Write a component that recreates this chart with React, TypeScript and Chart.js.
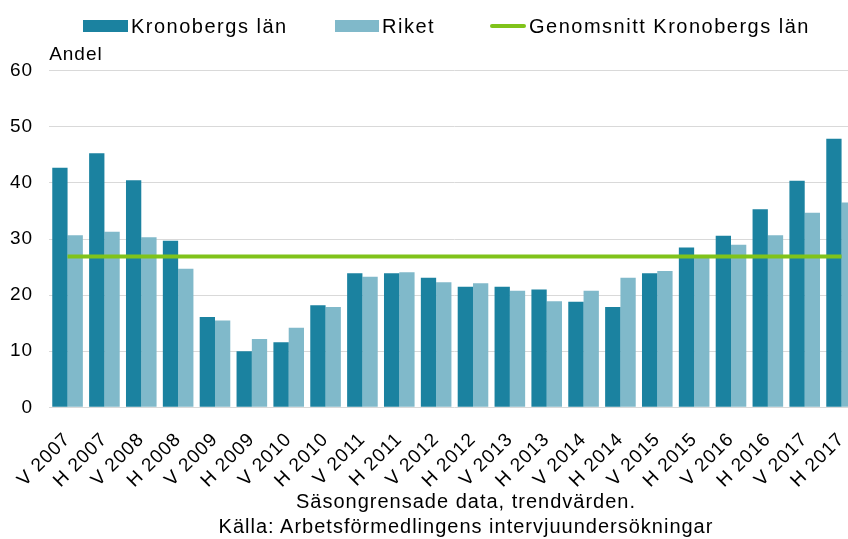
import React, { useEffect, useRef } from "react";
import { Chart, registerables } from "chart.js";

Chart.register(...registerables);

// ---- Data ----
const categories = [
  "V 2007", "H 2007", "V 2008", "H 2008", "V 2009", "H 2009", "V 2010", "H 2010",
  "V 2011", "H 2011", "V 2012", "H 2012", "V 2013", "H 2013", "V 2014", "H 2014",
  "V 2015", "H 2015", "V 2016", "H 2016", "V 2017", "H 2017",
];
const kronobergsLan = [
  42.7, 45.3, 40.5, 29.7, 16.1, 10.0, 11.6, 18.2, 23.9, 23.9, 23.1,
  21.5, 21.5, 21.0, 18.8, 17.9, 23.9, 28.5, 30.6, 35.3, 40.4, 47.9,
];
const riket = [
  30.7, 31.3, 30.3, 24.7, 15.5, 12.2, 14.2, 17.9, 23.3, 24.1, 22.3,
  22.1, 20.8, 18.9, 20.8, 23.1, 24.3, 27.0, 29.0, 30.7, 34.7, 36.5,
];
const genomsnittKronobergsLan = [
  26.9, 26.9, 26.9, 26.9, 26.9, 26.9, 26.9, 26.9, 26.9, 26.9, 26.9,
  26.9, 26.9, 26.9, 26.9, 26.9, 26.9, 26.9, 26.9, 26.9, 26.9, 26.9,
];
const seriesNames = ["Kronobergs län", "Riket", "Genomsnitt Kronobergs län"];
const yAxisLabel = "Andel";
const yMin = 0;
const yMax = 60;
const yStep = 10;
const captionLines = [
  "Säsongrensade data, trendvärden.",
  "Källa: Arbetsförmedlingens intervjuundersökningar",
];

// ---- Styles ----
const FONT = '"Liberation Sans", Arial, Helvetica, sans-serif';
const DARK = "#1b82a0";
const LIGHT = "#80b9ca";
const GREEN = "#80c31a";
const GRID = "#d9d9d9";
const TEXT = "#000000";
const Y_TICK_PADDING = 16;

const letterSpacingPlugin = {
  id: "letterSpacing",
  beforeLayout(chart: any) {
    chart.ctx.letterSpacing = "1px";
  },
  beforeDraw(chart: any) {
    chart.ctx.letterSpacing = "1px";
  },
};

export default function App() {
  const canvasRef = useRef<HTMLCanvasElement>(null);

  useEffect(() => {
    const chart = new Chart(canvasRef.current as HTMLCanvasElement, {
      type: "bar",
      data: {
        labels: categories,
        datasets: [
          {
            label: seriesNames[0],
            data: kronobergsLan,
            backgroundColor: DARK,
            order: 1,
          },
          {
            label: seriesNames[1],
            data: riket,
            backgroundColor: LIGHT,
            order: 1,
          },
          {
            type: "line",
            label: seriesNames[2],
            data: genomsnittKronobergsLan,
            borderColor: GREEN,
            backgroundColor: GREEN,
            borderWidth: 4,
            pointRadius: 0,
            fill: false,
            order: 0,
          } as any,
        ],
      },
      options: {
        animation: false,
        responsive: false,
        maintainAspectRatio: false,
        layout: { padding: { left: 10, top: 43, right: 0, bottom: 47 } },
        datasets: {
          bar: { categoryPercentage: 0.83, barPercentage: 1 },
        },
        plugins: {
          legend: { display: false },
          tooltip: { enabled: false },
          title: {
            display: true,
            text: yAxisLabel,
            align: "start",
            position: "top",
            fullSize: false,
            color: TEXT,
            font: { family: FONT, size: 19, weight: "normal", lineHeight: 1.2 },
            padding: { top: 0, bottom: 5 },
          },
        },
        scales: {
          x: {
            grid: { display: false, drawTicks: true, tickLength: 21 },
            border: { display: false },
            ticks: {
              autoSkip: false,
              minRotation: 45,
              maxRotation: 45,
              padding: 0,
              color: TEXT,
              font: { family: FONT, size: 19 },
            },
            afterFit(scale: any) {
              scale.paddingLeft = 0;
              scale.paddingRight = 0;
            },
          },
          y: {
            min: yMin,
            max: yMax,
            ticks: {
              stepSize: yStep,
              padding: Y_TICK_PADDING,
              color: TEXT,
              font: { family: FONT, size: 19 },
            },
            grid: { color: GRID, lineWidth: 1, drawTicks: false },
            border: { display: false },
            afterFit(scale: any) {
              // Chart.js reserves the tick padding twice; keep it once.
              scale.width = scale.width - Y_TICK_PADDING;
            },
          },
        },
      },
      plugins: [letterSpacingPlugin],
    });
    return () => chart.destroy();
  }, []);

  const legendItems = [
    { name: seriesNames[0], color: DARK, kind: "box", left: 83, swatchW: 45 },
    { name: seriesNames[1], color: LIGHT, kind: "box", left: 335, swatchW: 44 },
    { name: seriesNames[2], color: GREEN, kind: "line", left: 490, swatchW: 36 },
  ];

  return (
    <div
      style={{
        position: "fixed",
        left: 0,
        top: 0,
        width: 860,
        height: 539,
        background: "#fff",
        overflow: "hidden",
      }}
    >
      <canvas
        ref={canvasRef}
        width={860}
        height={539}
        style={{ display: "block", width: 860, height: 539 }}
      />
      {legendItems.map((it) => (
        <div
          key={it.name}
          style={{
            position: "absolute",
            left: it.left,
            top: 14,
            height: 24,
            display: "flex",
            alignItems: "center",
            fontFamily: FONT,
            fontSize: 20,
            lineHeight: "24px",
            letterSpacing: "1.5px",
            color: TEXT,
            whiteSpace: "nowrap",
          }}
        >
          <span
            style={{
              display: "inline-block",
              width: it.swatchW,
              height: it.kind === "box" ? 12 : 4,
              background: it.color,
              marginRight: 3,
              borderRadius: it.kind === "line" ? 2 : 0,
            }}
          />
          <span>{it.name}</span>
        </div>
      ))}
      <div
        style={{
          position: "absolute",
          left: 466,
          top: 489,
          transform: "translateX(-50%)",
          textAlign: "center",
          fontFamily: FONT,
          fontSize: 20,
          lineHeight: "24.5px",
          letterSpacing: "1px",
          color: TEXT,
          whiteSpace: "nowrap",
        }}
      >
        {captionLines.map((line) => (
          <div key={line}>{line}</div>
        ))}
      </div>
    </div>
  );
}
